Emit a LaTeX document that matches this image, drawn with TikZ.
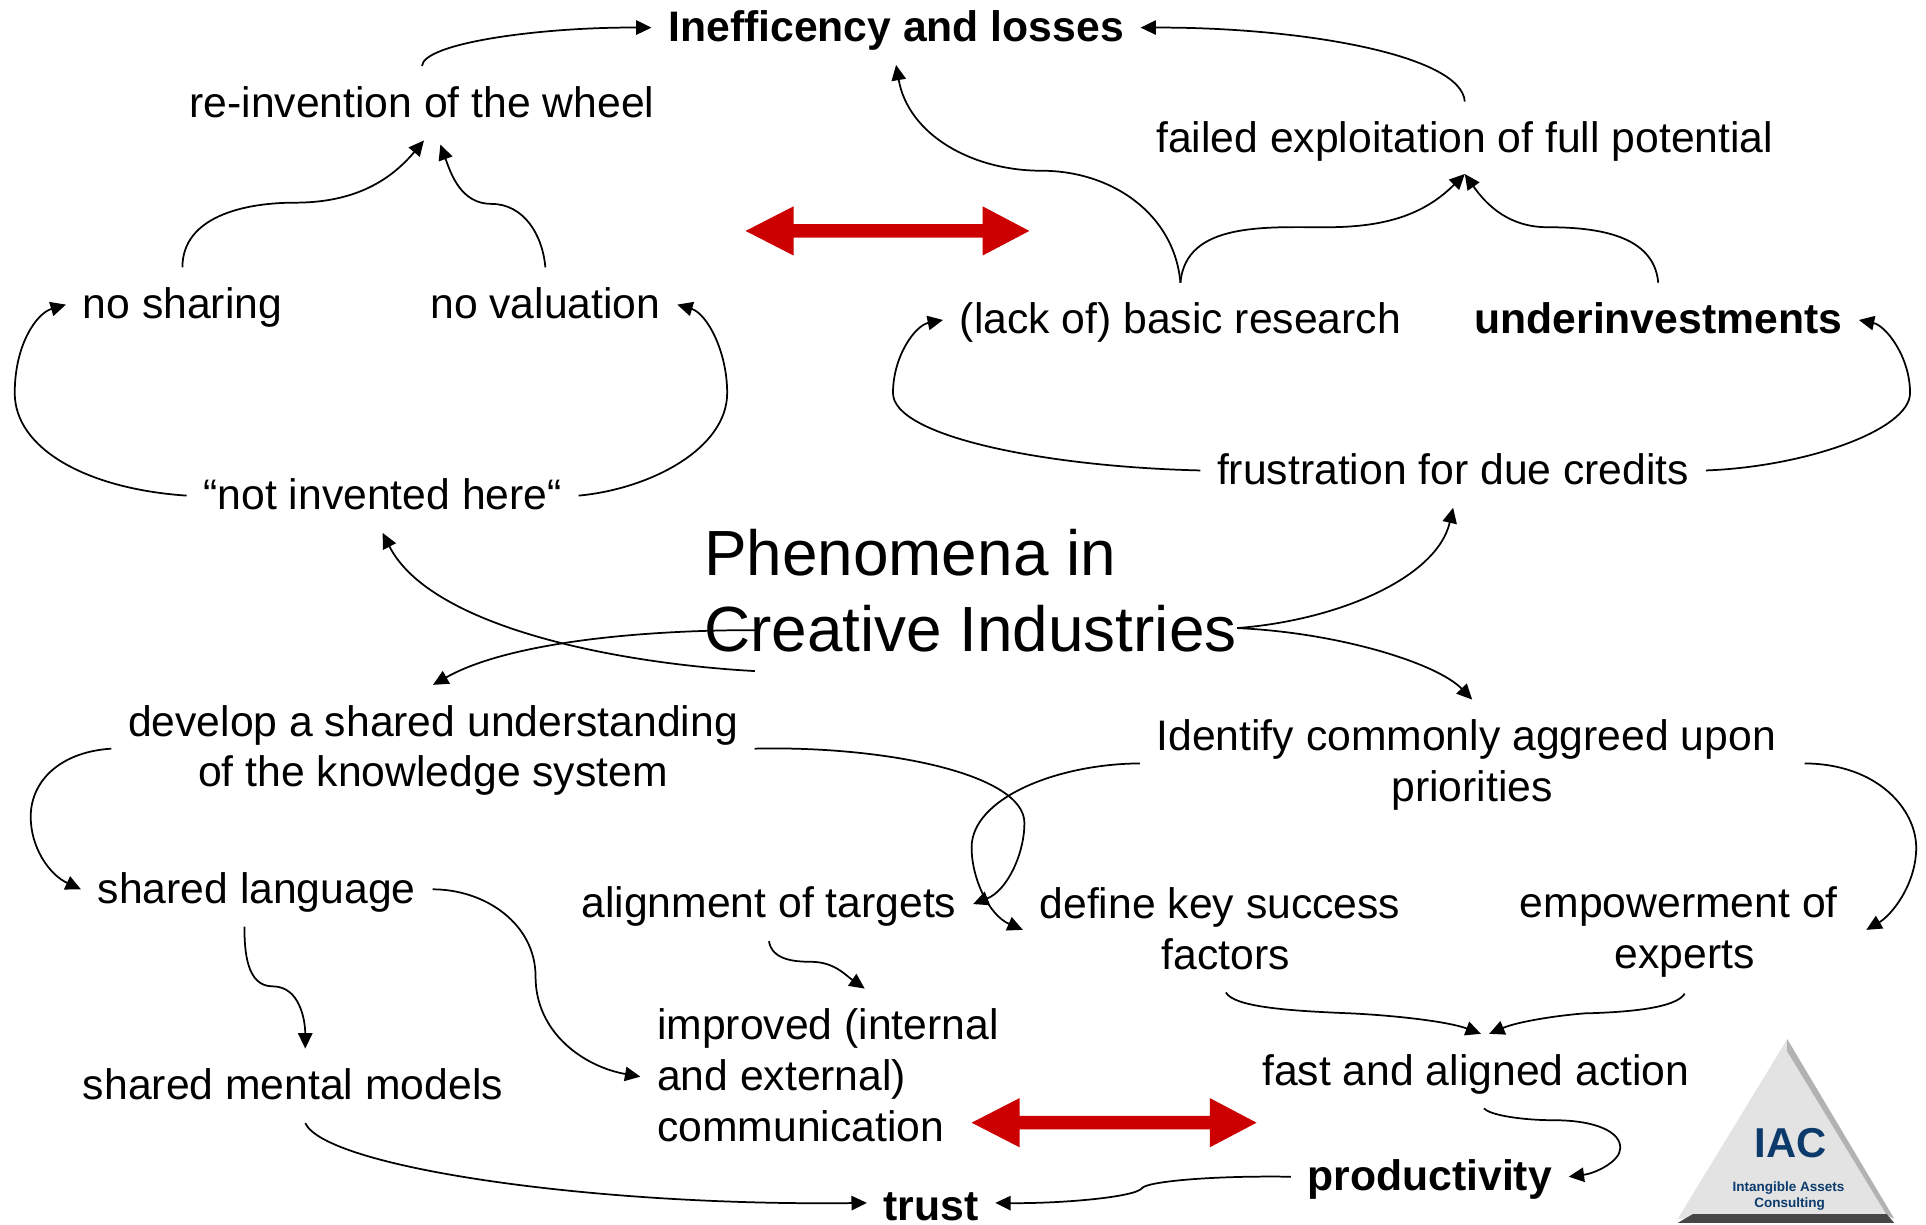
\documentclass[tikz,border=0pt]{standalone}
\usepackage{fontspec}
\setmainfont{Liberation Sans}
\usepackage{tikz}
\usetikzlibrary{arrows.meta}
\definecolor{arrowred}{HTML}{CC0000}
\definecolor{iacblue}{HTML}{0B3A6B}
\newcommand{\lnstrut}{\rule[-3.2pt]{0pt}{20pt}}
\tikzset{
  multi/.style={inner sep=8pt,align=center,font=\fontsize{20.85}{24.8}\selectfont},
  lbl/.style={multi,text height=16.8pt,text depth=3.2pt},
  boldlbl/.style={lbl,font=\fontsize{20.85}{24.8}\selectfont\bfseries},
  conn/.style={draw,line width=0.85pt,-{Triangle[length=7.5pt,width=7pt]}},
  logotxt/.style={inner sep=0pt,text=iacblue,font=\fontsize{6.6}{7}\selectfont\bfseries}
}
\begin{document}
\begin{tikzpicture}[x=0.6pt,y=-0.6pt]
    \useasboundingbox (0,0) rectangle (1568,996.5);
    % title
    \node[inner sep=0pt,align=left,font=\fontsize{31.2}{37.2}\selectfont] (pheno) at (790,481) {Phenomena in\\Creative Industries};
    % upper half
    \node[boldlbl] (ineff) at (729.5,22.5) {Inefficency and losses};
    \node[lbl] (reinvent) at (343.5,84) {re-invention of the wheel};
    \node[lbl] (failed) at (1192.5,113) {failed exploitation of full potential};
    \node[lbl] (noshare) at (148.5,248) {no sharing};
    \node[lbl] (noval) at (444,248) {no valuation};
    \node[lbl] (basic) at (961,260.5) {(lack of) basic research};
    \node[boldlbl] (underinv) at (1350,260.5) {underinvestments};
    \node[lbl] (notinv) at (311.5,403.5) {“not invented here“};
    \node[lbl] (frustr) at (1183,383) {frustration for due credits};
    % lower half
    \node[multi] (develop) at (352.5,609.5) {\lnstrut develop a shared understanding\\\lnstrut of the knowledge system};
    \node[multi] (identify) at (1198.5,621.5) {\lnstrut Identify commonly aggreed upon\kern5.8pt\\\lnstrut priorities};
    \node[lbl] (sharedlang) at (209,724) {shared language};
    \node[lbl] (align) at (626,736) {alignment of targets};
    \node[multi] (define) at (998,757) {\lnstrut define key success\kern5.8pt\\\lnstrut factors};
    \node[multi] (empower) at (1371.5,757) {\lnstrut empowerment of\kern5.8pt\\\lnstrut experts};
    \node[multi,align=left] (improved) at (674,876.5) {\lnstrut improved (internal\\\lnstrut and external)\\\lnstrut communication};
    \node[lbl] (mental) at (238.5,884) {shared mental models};
    \node[lbl] (fastact) at (1201.5,872) {fast and aligned action};
    \node[boldlbl] (prod) at (1164,958) {productivity};
    \node[boldlbl,text depth=0pt] (trust) at (758,979.3) {trust};
    % red arrows
    \foreach \ax/\ay/\al in {607/188/154, 791/914/155}
    	\fill[arrowred] (\ax,\ay) -- ++(39,-20) -- ++(0,14.5) -- ++(\al,0) -- ++(0,-14.5) -- ++(38,20) -- ++(-38,20) -- ++(0,-14.5) -- ++(-\al,0) -- ++(0,14.5) -- cycle;
    % connectors, upper half
    \draw[conn] (reinvent.north) .. controls (345,35) and (440,22) .. (ineff.west);
    \draw[conn] (failed.north) .. controls (1190,45) and (1060,22) .. (ineff.east);
    \draw[conn] (basic.north) to[out=95,in=0] (848,139) to[out=180,in=-80] (ineff.south);
    \draw[conn] (basic.north) to[out=85,in=180] (1080,185) to[out=0,in=-135] ([yshift=1pt]failed.south);
    \draw[conn] (underinv.north) to[out=95,in=0] (1260,185) to[out=180,in=-55] ([yshift=1pt]failed.south);
    \draw[conn] (noshare.north) to[out=90,in=180] (240,165) to[out=0,in=-130] ([xshift=1pt]reinvent.south);
    \draw[conn] (noval.north) to[out=95,in=0] (400,166) to[out=180,in=-70] ([xshift=9pt,yshift=-2pt]reinvent.south);
    \draw[conn] (notinv.west) .. controls (70,398) and (12,365) .. (12,320) .. controls (12,280) and (30,255) .. (noshare.west);
    \draw[conn] (notinv.east) .. controls (530,398) and (592,365) .. (592,320) .. controls (592,285) and (575,255) .. (noval.east);
    \draw[conn] (frustr.west) .. controls (850,380) and (727,355) .. (727,320) .. controls (727,290) and (745,265) .. (basic.west);
    \draw[conn] (frustr.east) .. controls (1470,380) and (1555,350) .. (1555,320) .. controls (1555,290) and (1535,265) .. (underinv.east);
    % connectors from the title
    \draw[conn] ([xshift=25pt,yshift=-39.2pt]pheno.west) .. controls (500,540) and (350,510) .. (notinv.south);
    \draw[conn] ([xshift=25pt,yshift=-19.2pt]pheno.west) .. controls (510,513) and (410,525) .. (develop.north);
    \draw[conn] ([yshift=-18.2pt]pheno.east) .. controls (1090,505) and (1170,470) .. (frustr.south);
    \draw[conn] ([yshift=-18.2pt]pheno.east) .. controls (1090,515) and (1170,540) .. (identify.north);
    % connectors, lower half
    \draw[conn] (develop.west) .. controls (50,612) and (25,635) .. (25,665) .. controls (25,690) and (40,712) .. (sharedlang.west);
    \draw[conn] (develop.east) .. controls (720,607) and (834,630) .. (834,670) .. controls (834,695) and (820,725) .. (align.east);
    \draw[conn] (identify.west) .. controls (860,622) and (791,650) .. (791,690) .. controls (791,715) and (805,745) .. (define.west);
    \draw[conn] (identify.east) .. controls (1530,622) and (1560,660) .. (1560,690) .. controls (1560,720) and (1540,745) .. (empower.east);
    \draw[conn] ([xshift=-6pt]sharedlang.south) to[out=-90,in=180] (222,803) to[out=0,in=90] ([xshift=6pt]mental.north);
    \draw[conn] (sharedlang.east) to[out=0,in=90] (436,795) to[out=-90,in=170] (improved.west);
    \draw[conn] (align.south) to[out=-80,in=180] (660,783) to[out=0,in=145] ([xshift=18pt]improved.north);
    \draw[conn] (define.south) .. controls (1005,820) and (1050,823) .. (1100,825) .. controls (1140,827) and (1180,832) .. ([xshift=2.5pt]fastact.north);
    \draw[conn] (empower.south) .. controls (1365,820) and (1330,824) .. (1290,825) .. controls (1265,827) and (1235,832) .. ([xshift=6.5pt]fastact.north);
    \draw[conn] ([xshift=4pt]fastact.south) .. controls (1213,908) and (1240,912) .. (1265,912) .. controls (1300,912) and (1320,922) .. (1319,935) .. controls (1319,945) and (1300,955) .. (prod.east);
    \draw[conn] (prod.west) .. controls (985,957) and (935,962) .. (930,967) .. controls (925,975) and (860,980) .. (trust.east);
    \draw[conn] ([xshift=6pt]mental.south) .. controls (265,950) and (480,982) .. (trust.west);
    % logo
    \fill[gray!22] (1366,992) -- (1455,846) -- (1542,992) -- cycle;
    \fill[gray!60] (1455,846) -- (1542,992) -- (1536,989) -- (1455,856) -- cycle;
    \fill[black!72] (1366,995.5) -- (1378,988.5) -- (1536,988.5) -- (1542,995.5) -- cycle;
    \node[logotxt,font=\fontsize{20.4}{22}\selectfont\bfseries] (iac) at (1458,931) {IAC};
    \node[logotxt] (iacname) at (1456,967) {Intangible Assets};
    \node[logotxt] (iacsub) at (1457,980) {Consulting};
\end{tikzpicture}
\end{document}
